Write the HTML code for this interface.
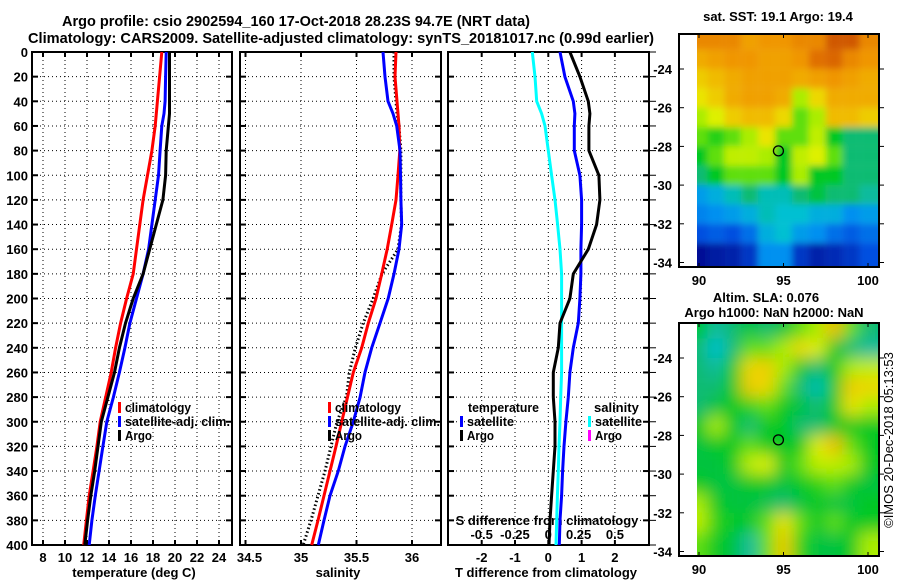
<!DOCTYPE html>
<html><head><meta charset="utf-8"><style>
html,body{margin:0;padding:0;background:#fff;}
svg{display:block;font-family:"Liberation Sans",sans-serif;font-weight:bold;}
</style></head><body>
<svg id="c" width="900" height="580" viewBox="0 0 900 580" xmlns="http://www.w3.org/2000/svg">
<text x="62" y="26" font-size="15" textLength="468" lengthAdjust="spacingAndGlyphs">Argo profile: csio 2902594_160 17-Oct-2018 28.23S 94.7E (NRT data)</text>
<text x="28" y="43" font-size="15" textLength="626" lengthAdjust="spacingAndGlyphs">Climatology: CARS2009. Satellite-adjusted climatology: synTS_20181017.nc (0.99d earlier)</text>
<g id="layer"></g>
</svg>
<script>
// ---- data ----
const depths = [0,20,40,50,60,80,100,120,140,160,180,200,220,240,260,280,300,320,340,360,380,400];
const tempClim = [18.8,18.6,18.4,18.3,18.2,17.9,17.5,17.1,16.8,16.5,16.2,15.6,15.05,14.6,14.2,13.7,13.2,12.9,12.55,12.2,11.95,11.7];
const tempSat = [19.2,19.15,19.1,19.0,18.8,18.65,18.5,18.2,17.9,17.6,17.1,16.5,15.9,15.45,14.95,14.4,13.8,13.45,13.1,12.75,12.45,12.2];
const tempArgo = [19.5,19.5,19.5,19.5,19.4,19.2,19.15,18.9,18.3,17.7,17.1,16.2,15.5,14.95,14.5,13.9,13.3,13.0,12.7,12.35,12.05,11.8];
const salClim = [35.856,35.847,35.865,35.874,35.883,35.89,35.874,35.856,35.817,35.777,35.727,35.676,35.606,35.547,35.471,35.419,35.367,35.315,35.261,35.207,35.153,35.096];
const salSat = [35.739,35.757,35.784,35.829,35.862,35.892,35.896,35.9,35.907,35.883,35.838,35.786,35.712,35.637,35.577,35.532,35.471,35.396,35.336,35.261,35.207,35.156];
const salArgo = [35.838,35.838,35.856,35.865,35.883,35.9,35.9,35.9,35.905,35.874,35.73,35.65,35.56,35.49,35.435,35.41,35.324,35.27,35.216,35.153,35.09,35.02];
const tDiffArgo = [0.65,0.95,1.2,1.25,1.22,1.22,1.52,1.55,1.45,1.2,0.75,0.65,0.35,0.3,0.15,0.15,0.2,0.2,0.15,0.1,0.05,0.02];
const tDiffSat = [0.35,0.5,0.75,0.8,0.78,0.78,0.95,1.0,1.0,0.98,0.98,0.95,0.9,0.75,0.65,0.6,0.53,0.47,0.43,0.4,0.35,0.33];
const sDiffSat = [-0.12,-0.1,-0.087,-0.05,-0.025,0,0.025,0.05,0.07,0.088,0.1,0.1,0.1,0.1,0.1,0.093,0.088,0.08,0.075,0.068,0.063,0.058];
const depthTicks = [0,20,40,60,80,100,120,140,160,180,200,220,240,260,280,300,320,340,360,380,400];
const tempTicks = [8,10,12,14,16,18,20,22,24];
const salTicks = [34.5,35,35.5,36];
const salTickLabels = ["34.5","35","35.5","36"];
const tdTicks = [-2,-1,0,1,2];
const sdTicks = [-0.5,-0.25,0,0.25,0.5];
const sdTickLabels = ["-0.5","-0.25","0","0.25","0.5"];
const mapLons = [90,91,92,93,94,95,96,97,98,99,100];
const mapLats = [-22.5,-23.5,-24.5,-25.5,-26.5,-27.5,-28.5,-29.5,-30.5,-31.5,-32.5,-33.5];
const sstGrid = [
[0.85,0.85,0.85,0.8,0.82,0.82,0.85,0.85,0.95,0.95,0.85],
[0.78,0.8,0.82,0.82,0.8,0.8,0.82,0.9,0.92,0.85,0.82],
[0.72,0.75,0.78,0.8,0.8,0.8,0.78,0.8,0.82,0.8,0.78],
[0.68,0.72,0.78,0.8,0.8,0.78,0.6,0.7,0.78,0.78,0.78],
[0.6,0.65,0.72,0.75,0.75,0.7,0.55,0.6,0.75,0.75,0.72],
[0.55,0.52,0.55,0.6,0.68,0.55,0.55,0.62,0.5,0.45,0.45],
[0.5,0.55,0.62,0.62,0.6,0.5,0.62,0.65,0.55,0.45,0.45],
[0.45,0.5,0.55,0.55,0.55,0.5,0.6,0.5,0.5,0.45,0.45],
[0.32,0.35,0.4,0.45,0.4,0.4,0.45,0.48,0.45,0.45,0.42],
[0.28,0.3,0.32,0.35,0.4,0.38,0.38,0.35,0.35,0.3,0.32],
[0.2,0.22,0.2,0.25,0.35,0.38,0.32,0.3,0.25,0.22,0.25],
[0.05,0.08,0.1,0.15,0.3,0.3,0.15,0.1,0.12,0.15,0.2]];
const slaGrid = [
[0.5,0.42,0.45,0.48,0.45,0.48,0.55,0.6,0.75,0.55,0.45],
[0.45,0.38,0.45,0.55,0.55,0.6,0.7,0.65,0.5,0.45,0.42],
[0.45,0.42,0.5,0.7,0.72,0.6,0.5,0.45,0.5,0.6,0.62],
[0.45,0.45,0.5,0.72,0.7,0.55,0.45,0.4,0.5,0.72,0.7],
[0.45,0.48,0.5,0.52,0.55,0.5,0.48,0.45,0.5,0.68,0.6],
[0.5,0.6,0.5,0.45,0.5,0.5,0.45,0.45,0.5,0.5,0.5],
[0.48,0.5,0.5,0.55,0.5,0.5,0.5,0.65,0.75,0.55,0.5],
[0.48,0.48,0.5,0.62,0.65,0.5,0.55,0.62,0.62,0.6,0.5],
[0.5,0.48,0.48,0.5,0.5,0.48,0.5,0.52,0.55,0.5,0.48],
[0.6,0.5,0.48,0.48,0.47,0.45,0.48,0.5,0.48,0.48,0.5],
[0.62,0.52,0.5,0.5,0.55,0.68,0.55,0.5,0.55,0.5,0.5],
[0.55,0.5,0.48,0.42,0.55,0.72,0.52,0.48,0.48,0.5,0.6]];
const mapLatTicks = [-24,-26,-28,-30,-32,-34];
const mapLonTicks = [90,95,100];
const argoLon = 94.7, argoLat = -28.23;

// ---- helpers ----
const NS="http://www.w3.org/2000/svg";
const layer=document.getElementById('layer');
function mk(tag,attrs,parent){const e=document.createElementNS(NS,tag);for(const k in attrs)e.setAttribute(k,attrs[k]);(parent||layer).appendChild(e);return e;}
function txt(x,y,s,size,anchor,parent){const t=mk('text',{x:x,y:y,'font-size':size||13,'text-anchor':anchor||'start'},parent);t.textContent=s;return t;}
const yD = d => 52 + d*1.2325;
const panels=[
 {x0:32,x1:232,sx:v=>43+(v-8)*11},
 {x0:240,x1:441,sx:v=>301+(v-35)*111},
 {x0:448,x1:649,sx:v=>548.3+v*33.3}
];
const sxS = v=>548.3+v*133.3;

panels.forEach((p,i)=>{
 const g=mk('g',{});
 
 
 depthTicks.forEach(d=>{
  if(d>0&&d<400){const l=mk('line',{x1:p.x0,x2:p.x1,y1:yD(d),y2:yD(d),stroke:'#000','stroke-width':1,'stroke-dasharray':'1 3'},g);
   }
  mk('line',{x1:p.x0,x2:p.x0+6,y1:yD(d),y2:yD(d),stroke:'#000','stroke-width':2},g);
  mk('line',{x1:p.x1-6,x2:p.x1,y1:yD(d),y2:yD(d),stroke:'#000','stroke-width':2},g);
 });
 const xt = i==0?tempTicks:(i==1?salTicks:tdTicks);
 xt.forEach(v=>{const x=p.sx(v);
  const l=mk('line',{x1:x,x2:x,y1:52,y2:545,stroke:'#000','stroke-width':1,'stroke-dasharray':'1 3'},g);
  
  mk('line',{x1:x,x2:x,y1:52,y2:57,stroke:'#000','stroke-width':2},g);
  mk('line',{x1:x,x2:x,y1:540,y2:545,stroke:'#000','stroke-width':2},g);
 });
 const fr=mk('rect',{x:p.x0,y:52,width:p.x1-p.x0,height:493,fill:'none',stroke:'#000','stroke-width':2},g);
 
});
depthTicks.forEach(d=>{const t=txt(28,yD(d)+5,String(d),13,'end');
 });
tempTicks.forEach(v=>{const t=txt(panels[0].sx(v),562,String(v),13,'middle');
 });
salTicks.forEach((v,i)=>{const t=txt(panels[1].sx(v)+(i==0?4:0),562,salTickLabels[i],13,'middle');
 });
tdTicks.forEach(v=>{const t=txt(panels[2].sx(v),562,String(v),13,'middle');
 });
sdTicks.forEach((v,i)=>{const t=txt(sxS(v)+(v>0&&v<0.5?-3:0),539,sdTickLabels[i],13,'middle');
 });
let t;
t=txt(134,577,'temperature (deg C)',13,'middle');
t=txt(338,577,'salinity',13,'middle');
t=txt(546,577,'T difference from climatology',13,'middle');
t=txt(547,525,'S difference from climatology',13,'middle');
depthTicks.forEach(d=>{mk('line',{x1:649,x2:656,y1:yD(d),y2:yD(d),stroke:'#000','stroke-width':1});});

function series(vals,sx,color,name,dash,w){
 const pts=vals.map((v,i)=>sx(v).toFixed(1)+','+yD(depths[i]).toFixed(1)).join(' ');
 const a={points:pts,fill:'none',stroke:color,'stroke-width':w||3,'stroke-linejoin':'miter'};
 if(dash)a['stroke-dasharray']=dash;
 const pl=mk('polyline',a);
 
 
}
series(tempClim,panels[0].sx,'#f00','temp-climatology-line');
series(tempSat,panels[0].sx,'#00f','temp-satellite-line');
series(tempArgo,panels[0].sx,'#000','temp-argo-line');
series(salArgo,panels[1].sx,'#000','salinity-argo-line','1.5 2.5',3);
series(salClim,panels[1].sx,'#f00','salinity-climatology-line');
series(salSat,panels[1].sx,'#00f','salinity-satellite-line');
series(sDiffSat,sxS,'#0ff','s-diff-satellite-line');
series(tDiffSat,panels[2].sx,'#00f','t-diff-satellite-line');
series(tDiffArgo,panels[2].sx,'#000','t-diff-argo-line');

function legendEntry(x,y,color,label,name,len){
 const g=mk('g',{});
 
 
 mk('rect',{x:x,y:y-10,width:3,height:11,fill:color},g);
 const tt=txt(x+7,y,label,13,'start',g);
 if(len){tt.setAttribute('textLength',len);tt.setAttribute('lengthAdjust','spacingAndGlyphs');}
}
legendEntry(118,412,'#f00','climatology','legend-entry-climatology',66);
legendEntry(118,426,'#00f','satellite-adj. clim.','legend-entry-satellite-adj',105);
legendEntry(118,440,'#000','Argo','legend-entry-argo',27);
legendEntry(328,412,'#f00','climatology','legend-entry-climatology-sal',66);
legendEntry(328,426,'#00f','satellite-adj. clim.','legend-entry-satellite-adj-sal',105);
legendEntry(328,440,'#000','Argo','legend-entry-argo-sal',27);
t=txt(468,412,'temperature',13);
t.setAttribute('textLength',71);t.setAttribute('lengthAdjust','spacingAndGlyphs');
legendEntry(460,426,'#00f','satellite','legend-entry-t-satellite',47);
legendEntry(460,440,'#000','Argo','legend-entry-t-argo',27);
t=txt(594,412,'salinity',13);
legendEntry(588,426,'#0ff','satellite','legend-entry-s-satellite',47);
legendEntry(588,440,'#f0f','Argo','legend-entry-s-argo',27);

// ---- maps ----
const stops=[[0,[0,0,128]],[0.1,[0,32,170]],[0.2,[0,80,224]],[0.3,[0,144,240]],[0.38,[0,192,210]],[0.44,[16,184,130]],[0.5,[0,200,32]],[0.58,[150,236,0]],[0.66,[232,240,0]],[0.74,[240,192,0]],[0.82,[240,150,0]],[0.9,[224,112,0]],[1,[192,64,0]]];
function cmap(v){for(let i=1;i<stops.length;i++){if(v<=stops[i][0]){const a=stops[i-1],b=stops[i],f=(v-a[0])/(b[0]-a[0]);
 return 'rgb('+a[1].map((c,k)=>Math.round(c+(b[1][k]-c)*f)).join(',')+')';}}return 'rgb(192,64,0)';}
function drawMap(top,grid,name,blurId){
 const mx=lon=>699+(lon-90)*16.9;
 const my=lat=>top+35+(-24-lat)*19.35;
 const frameBottom=top+233;
 const g=mk('g',{});
 
 
 const id='clip'+top;
 const cp=mk('clipPath',{id:id},g);mk('rect',{x:697,y:top,width:182,height:233},cp);
 const cg=mk('g',{'clip-path':'url(#'+id+')'},g);
 const inner=mk('g',{filter:'url(#'+blurId+')'},cg);
 grid.forEach((row,r)=>row.forEach((v,c)=>{
  const cx=mx(mapLons[c]),cy=my(mapLats[r]);
  const h=(r==grid.length-1)?40:19.35, y0=(r==0)?cy-9.7-30:cy-9.7;
  const rc=mk('rect',{x:(c==0?cx-30:cx-8.45),y:y0,width:(c==0?38.5:(c==row.length-1?40:16.95)),height:(r==0?h+30:h),fill:cmap(v)},inner);
  
  
 }));
 mk('rect',{x:679,y:top,width:200,height:233,fill:'none',stroke:'#000','stroke-width':2},g);
 mk('rect',{x:680,y:top+1,width:17,height:231,fill:'#fff'},g);
 mapLatTicks.forEach(lat=>{const y=my(lat);
  mk('line',{x1:679,x2:684,y1:y,y2:y,stroke:'#000','stroke-width':1},g);
  mk('line',{x1:879,x2:884,y1:y,y2:y,stroke:'#000','stroke-width':1},g);
  txt(672,y+5,String(lat),13,'end',g);});
 mapLonTicks.forEach(lon=>{const x=mx(lon);
  mk('line',{x1:x,x2:x,y1:top,y2:top+4,stroke:'#000'},g);
  mk('line',{x1:x,x2:x,y1:frameBottom-4,y2:frameBottom,stroke:'#000'},g);
  txt(x,frameBottom+18,String(lon),13,'middle',g);});
 const c=mk('circle',{cx:mx(argoLon),cy:my(argoLat),r:5,fill:'none',stroke:'#000','stroke-width':1.3},g);
 
 
}
const defs=mk('defs',{});
const f=mk('filter',{id:'blur',x:'-10%',y:'-10%',width:'120%',height:'120%'},defs);
mk('feGaussianBlur',{stdDeviation:8},f);
const f2=mk('filter',{id:'blur2',x:'-10%',y:'-10%',width:'120%',height:'120%'},defs);
mk('feGaussianBlur',{stdDeviation:3.5},f2);
drawMap(34,sstGrid,'sst-map','blur2');
drawMap(323,slaGrid,'sla-map','blur');
t=txt(778,21,'sat. SST: 19.1 Argo: 19.4',13,'middle');
t=txt(766,302,'Altim. SLA: 0.076',13,'middle');
t=txt(774,317,'Argo h1000: NaN h2000: NaN',13,'middle');
t=mk('text',{x:0,y:0,'font-size':13,'font-weight':'normal',transform:'translate(893,440) rotate(-90)','text-anchor':'middle'});
t.textContent='©IMOS 20-Dec-2018 05:13:53';

</script>
</body></html>
